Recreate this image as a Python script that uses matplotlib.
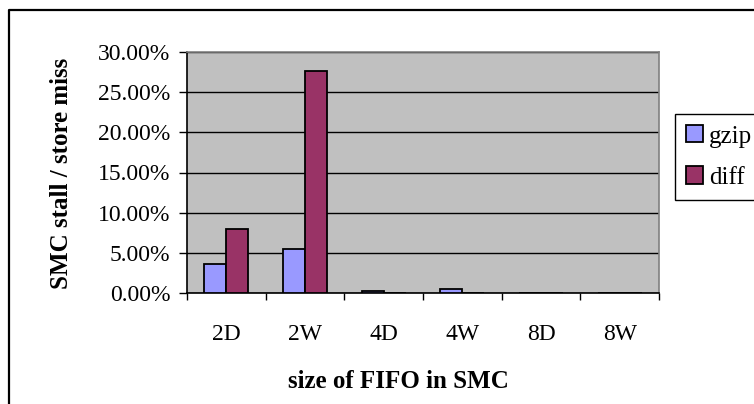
import matplotlib
matplotlib.use("Agg")
import matplotlib.pyplot as plt
from matplotlib.lines import Line2D
from matplotlib.ticker import FuncFormatter, MultipleLocator
import numpy as np

categories = ["2D", "2W", "4D", "4W", "8D", "8W"]
gzip = [3.6, 5.5, 0.25, 0.45, 0.0, 0.0]
diff = [8.0, 27.6, 0.0, 0.0, 0.0, 0.0]
series_names = ["gzip", "diff"]

plt.rcParams['font.family'] = ['Liberation Serif', 'DejaVu Serif']

W, H = 754, 404
fig = plt.figure(figsize=(W / 100, H / 100), dpi=100)
ax = fig.add_axes([187 / W, 1 - 293 / H, (659 - 187) / W, (293 - 52) / H])
ax.set_facecolor("#C0C0C0")

x = np.arange(len(categories)) + 0.5
bw = 0.28
ax.bar(x - bw / 2, gzip, bw, color="#9999FF", edgecolor="black", linewidth=1.3,
       label=series_names[0], zorder=3)
ax.bar(x + bw / 2, diff, bw, color="#993366", edgecolor="black", linewidth=1.3,
       label=series_names[1], zorder=3)

ax.set_xlim(0, len(categories))
ax.set_ylim(0, 30)
ax.yaxis.set_major_locator(MultipleLocator(5))
ax.yaxis.set_major_formatter(FuncFormatter(lambda v, p: f"{v:.2f}%"))
ax.grid(axis="y", color="black", linewidth=1.0, zorder=1)
ax.set_axisbelow(True)

ax.set_xticks(np.arange(len(categories) + 1))
ax.set_xticklabels([])
ax.set_xticks(x, minor=True)
ax.set_xticklabels(categories, minor=True, fontsize=17)
ax.tick_params(axis="x", which="major", length=5, width=1, color="black", direction="out")
ax.tick_params(axis="x", which="minor", length=0, pad=22)
ax.tick_params(axis="y", length=6, width=1, direction="out", labelsize=17, pad=6)

for s in ["top", "right"]:
    ax.spines[s].set_color("#808080")
    ax.spines[s].set_linewidth(1.2)
for s in ["left", "bottom"]:
    ax.spines[s].set_color("black")
    ax.spines[s].set_linewidth(1.2)

fig.text(62 / W, 1 - 173 / H, "SMC stall / store miss", rotation=90, ha="center",
         va="center", fontsize=18, fontweight="bold")
fig.text(398 / W, 1 - 382 / H, "size of FIFO in SMC", ha="center", va="center",
         fontsize=18, fontweight="bold")

leg = ax.legend(loc="upper left", bbox_to_anchor=(675 / W, 1 - 114 / H),
                bbox_transform=fig.transFigure, borderaxespad=0, fancybox=False,
                edgecolor="black", framealpha=1, fontsize=18,
                handlelength=0.68, handleheight=0.68, handletextpad=0.24,
                labelspacing=0.75, borderpad=0.45)
leg.get_frame().set_linewidth(1.0)

# outer chart border
fig.add_artist(Line2D([9 / W, 9 / W, 1.0], [0.0, 1 - 10 / H, 1 - 10 / H],
                      transform=fig.transFigure, color="black", linewidth=1.6))

fig.savefig("out.png", dpi=100)
